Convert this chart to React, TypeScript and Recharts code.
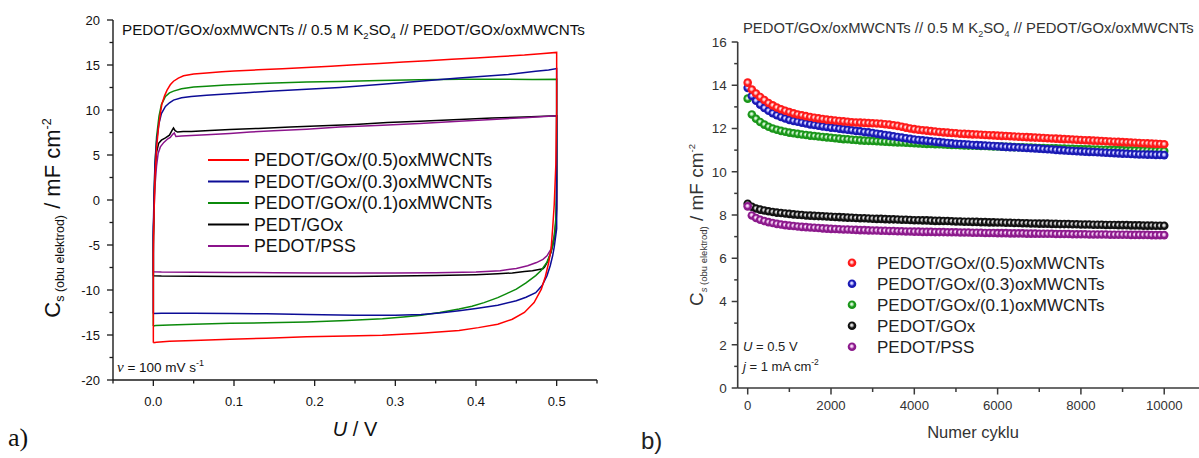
import React from 'react';
import { LineChart, Line, ScatterChart, Scatter, XAxis, YAxis, Legend } from 'recharts';

const fontSans = '"Liberation Sans", Arial, sans-serif';
const fontSerif = '"Liberation Serif", "Times New Roman", serif';

// ---------------- Panel a: cyclic voltammograms ----------------
const cvNames = ['PEDOT/GOx/(0.5)oxMWCNTs', 'PEDOT/GOx/(0.3)oxMWCNTs', 'PEDOT/GOx/(0.1)oxMWCNTs', 'PEDT/GOx', 'PEDOT/PSS'];
const cvColors = ['#ff0000', '#0c0c96', '#0b8a0b', '#000000', '#8b138b'];

const cvRed: [number, number][] = [
  [0, -15.85], [0, -11], [0, -6], [0.001, -1], [0.002, 2.5], [0.004, 5.8], [0.0066, 8.2], [0.009, 9.8], [0.0107, 10.7],
  [0.014, 11.6], [0.017, 12.2], [0.021, 12.8], [0.025, 13.2], [0.031, 13.55], [0.0375, 13.8], [0.05, 14.0], [0.066, 14.12],
  [0.085, 14.25], [0.1, 14.33], [0.13, 14.46], [0.16, 14.58], [0.19, 14.72], [0.22, 14.86], [0.25, 15.02], [0.28, 15.18],
  [0.31, 15.33], [0.34, 15.48], [0.37, 15.63], [0.4, 15.78], [0.43, 15.94], [0.46, 16.1], [0.48, 16.25], [0.5, 16.4],
  [0.5, 10], [0.499, 4], [0.497, -0.5], [0.495, -3.2], [0.493, -5.5], [0.49, -7.0], [0.486, -8.5], [0.481, -9.9],
  [0.472, -11.4], [0.46, -12.5], [0.445, -13.25], [0.427, -13.8], [0.403, -14.18], [0.379, -14.5], [0.332, -14.8],
  [0.284, -15.04], [0.24, -15.12], [0.19, -15.2], [0.14, -15.35], [0.095, -15.48], [0.05, -15.6], [0.02, -15.7],
  [0.004, -15.8], [0, -15.85],
];
const cvBlue: [number, number][] = [
  [0, -12.6], [0, -8], [0, -3], [0.001, 1], [0.002, 4], [0.004, 6.5], [0.007, 8.5], [0.01, 9.6], [0.015, 10.4],
  [0.02, 10.8], [0.025, 11.1], [0.035, 11.35], [0.047, 11.5], [0.066, 11.65], [0.095, 11.8], [0.12, 11.95], [0.149, 12.1],
  [0.19, 12.3], [0.231, 12.5], [0.284, 12.85], [0.33, 13.2], [0.379, 13.55], [0.41, 13.75], [0.44, 13.95], [0.474, 14.3],
  [0.49, 14.45], [0.5, 14.6], [0.5, 8], [0.5, 0], [0.5, -3.2], [0.497, -5.2], [0.495, -6.2], [0.492, -7.3], [0.488, -8.4],
  [0.482, -9.5], [0.474, -10.3], [0.462, -10.8], [0.45, -11.2], [0.427, -11.7], [0.4, -12.05], [0.379, -12.3],
  [0.355, -12.55], [0.332, -12.73], [0.3, -12.8], [0.25, -12.8], [0.19, -12.72], [0.14, -12.65], [0.095, -12.6],
  [0.05, -12.57], [0.01, -12.57], [0, -12.6],
];
const cvGreen: [number, number][] = [
  [0, -14.0], [0, -10], [0, -5], [0.001, 0], [0.002, 4], [0.004, 7], [0.007, 9.3], [0.01, 10.6], [0.015, 11.5],
  [0.02, 11.9], [0.025, 12.1], [0.035, 12.35], [0.05, 12.55], [0.066, 12.65], [0.09, 12.78], [0.12, 12.9], [0.15, 13.0],
  [0.19, 13.1], [0.23, 13.18], [0.28, 13.28], [0.33, 13.35], [0.38, 13.42], [0.43, 13.42], [0.47, 13.4], [0.5, 13.42],
  [0.5, 8], [0.5, 2], [0.499, -2], [0.497, -4], [0.495, -5.1], [0.492, -6.0], [0.488, -6.9], [0.481, -7.8], [0.474, -8.4],
  [0.462, -9.2], [0.45, -9.9], [0.438, -10.4], [0.427, -10.85], [0.41, -11.4], [0.395, -11.8], [0.379, -12.1],
  [0.355, -12.5], [0.332, -12.8], [0.31, -13.0], [0.284, -13.2], [0.24, -13.4], [0.19, -13.55], [0.14, -13.65],
  [0.095, -13.7], [0.05, -13.8], [0.02, -13.9], [0.003, -13.95], [0, -14.0],
];
const cvBlack: [number, number][] = [
  [0, -8.42], [0, -4], [0.001, 0], [0.002, 3], [0.004, 5.3], [0.0066, 6.3], [0.01, 6.65], [0.015, 6.9], [0.02, 7.2],
  [0.023, 7.7], [0.025, 8.0], [0.027, 7.7], [0.03, 7.55], [0.037, 7.6], [0.047, 7.62], [0.07, 7.72], [0.095, 7.82],
  [0.13, 7.95], [0.17, 8.1], [0.21, 8.25], [0.25, 8.4], [0.29, 8.6], [0.33, 8.75], [0.379, 8.95], [0.42, 9.1],
  [0.46, 9.22], [0.5, 9.35], [0.5, 4], [0.5, -1], [0.499, -3], [0.497, -4.3], [0.493, -5.8], [0.489, -6.8],
  [0.485, -7.45], [0.483, -7.65], [0.478, -7.72], [0.47, -7.85], [0.46, -7.95], [0.445, -8.1], [0.427, -8.2],
  [0.4, -8.3], [0.35, -8.4], [0.3, -8.45], [0.25, -8.5], [0.2, -8.5], [0.15, -8.5], [0.1, -8.5], [0.05, -8.48],
  [0.01, -8.45], [0, -8.42],
];
const cvPurple: [number, number][] = [
  [0, -7.97], [0, -4], [0.001, -1], [0.002, 1.5], [0.004, 3.8], [0.006, 5.2], [0.0087, 5.9], [0.013, 6.4], [0.018, 6.8],
  [0.021, 6.96], [0.024, 7.3], [0.026, 7.45], [0.028, 7.05], [0.035, 7.1], [0.047, 7.18], [0.066, 7.25], [0.095, 7.4],
  [0.12, 7.55], [0.149, 7.7], [0.19, 7.87], [0.231, 8.1], [0.284, 8.3], [0.33, 8.5], [0.379, 8.75], [0.42, 8.95],
  [0.46, 9.15], [0.5, 9.35], [0.5, 5], [0.5, 0], [0.499, -2.5], [0.497, -4], [0.493, -5.45], [0.488, -6.2],
  [0.483, -6.6], [0.475, -6.95], [0.464, -7.3], [0.45, -7.6], [0.43, -7.85], [0.4, -8.0], [0.35, -8.08], [0.3, -8.1],
  [0.25, -8.12], [0.2, -8.1], [0.15, -8.08], [0.1, -8.05], [0.05, -8.02], [0.01, -8.0], [0, -7.97],
];
const cvSeries = [cvRed, cvBlue, cvGreen, cvBlack, cvPurple];
const cvDrawOrder = [3, 4, 2, 1, 0];

const aXMajor = [0, 0.1, 0.2, 0.3, 0.4, 0.5];
const aXMinor = [-0.05, 0.05, 0.15, 0.25, 0.35, 0.45, 0.55];
const aYMajor = [-20, -15, -10, -5, 0, 5, 10, 15, 20];
const aYMinor = [-17.5, -12.5, -7.5, -2.5, 2.5, 7.5, 12.5, 17.5];

// ---------------- Panel b: cycling stability ----------------
const bNames = ['PEDOT/GOx/(0.5)oxMWCNTs', 'PEDOT/GOx/(0.3)oxMWCNTs', 'PEDOT/GOx/(0.1)oxMWCNTs', 'PEDOT/GOx', 'PEDOT/PSS'];
const bColors = ['#ff1a1a', '#1a1ab4', '#1a961a', '#111111', '#8c1a8c'];
const bLight = ['#ffb0b0', '#b0b0ff', '#b0e8b0', '#bbbbbb', '#e8b0e8'];

const cycles = [
  0, 100, 200, 300, 400, 500, 600, 700, 800, 900,
  1000, 1100, 1200, 1300, 1400, 1500, 1600, 1700, 1800, 1900,
  2000, 2100, 2200, 2300, 2400, 2500, 2600, 2700, 2800, 2900,
  3000, 3100, 3200, 3300, 3400, 3500, 3600, 3700, 3800, 3900,
  4000, 4100, 4200, 4300, 4400, 4500, 4600, 4700, 4800, 4900,
  5000, 5100, 5200, 5300, 5400, 5500, 5600, 5700, 5800, 5900,
  6000, 6100, 6200, 6300, 6400, 6500, 6600, 6700, 6800, 6900,
  7000, 7100, 7200, 7300, 7400, 7500, 7600, 7700, 7800, 7900,
  8000, 8100, 8200, 8300, 8400, 8500, 8600, 8700, 8800, 8900,
  9000, 9100, 9200, 9300, 9400, 9500, 9600, 9700, 9800, 9900,
  10000,
];
const capRed = [
  14.12, 13.80, 13.62, 13.46, 13.32, 13.18, 13.07, 12.97, 12.89, 12.82,
  12.76, 12.70, 12.65, 12.61, 12.57, 12.53, 12.50, 12.47, 12.44, 12.41,
  12.39, 12.37, 12.35, 12.33, 12.31, 12.29, 12.28, 12.27, 12.26, 12.25,
  12.24, 12.23, 12.22, 12.20, 12.18, 12.15, 12.12, 12.08, 12.04, 12.00,
  11.97, 11.94, 11.92, 11.90, 11.88, 11.86, 11.84, 11.82, 11.81, 11.79,
  11.78, 11.76, 11.75, 11.74, 11.73, 11.72, 11.71, 11.70, 11.69, 11.68,
  11.67, 11.66, 11.65, 11.64, 11.63, 11.62, 11.61, 11.60, 11.59, 11.58,
  11.57, 11.56, 11.55, 11.54, 11.53, 11.52, 11.51, 11.50, 11.49, 11.48,
  11.47, 11.46, 11.45, 11.44, 11.43, 11.42, 11.41, 11.40, 11.39, 11.38,
  11.37, 11.36, 11.35, 11.34, 11.33, 11.32, 11.31, 11.30, 11.29, 11.28,
  11.27,
];
const capBlue = [
  13.88, 13.50, 13.28, 13.10, 12.95, 12.82, 12.71, 12.61, 12.53, 12.46,
  12.40, 12.35, 12.31, 12.27, 12.23, 12.19, 12.16, 12.13, 12.10, 12.07,
  12.04, 12.02, 11.99, 11.97, 11.94, 11.92, 11.89, 11.87, 11.84, 11.82,
  11.79, 11.76, 11.73, 11.70, 11.67, 11.64, 11.61, 11.58, 11.55, 11.52,
  11.49, 11.47, 11.45, 11.43, 11.41, 11.39, 11.37, 11.35, 11.33, 11.31,
  11.29, 11.28, 11.27, 11.26, 11.24, 11.23, 11.22, 11.21, 11.20, 11.19,
  11.18, 11.16, 11.15, 11.14, 11.13, 11.12, 11.11, 11.10, 11.09, 11.08,
  11.07, 11.05, 11.04, 11.03, 11.01, 11.00, 10.99, 10.97, 10.96, 10.95,
  10.94, 10.93, 10.92, 10.91, 10.90, 10.89, 10.88, 10.87, 10.86, 10.85,
  10.84, 10.83, 10.82, 10.81, 10.80, 10.80, 10.79, 10.79, 10.78, 10.78,
  10.77,
];
const capGreen = [
  13.38, 12.65, 12.45, 12.30, 12.18, 12.08, 12.00, 11.94, 11.89, 11.85,
  11.81, 11.78, 11.75, 11.72, 11.70, 11.67, 11.65, 11.63, 11.61, 11.59,
  11.57, 11.55, 11.53, 11.51, 11.50, 11.48, 11.47, 11.45, 11.44, 11.43,
  11.42, 11.41, 11.40, 11.39, 11.38, 11.37, 11.36, 11.35, 11.34, 11.33,
  11.32, 11.31, 11.30, 11.29, 11.28, 11.27, 11.27, 11.26, 11.25, 11.24,
  11.24, 11.23, 11.22, 11.21, 11.21, 11.20, 11.19, 11.19, 11.18, 11.17,
  11.17, 11.16, 11.15, 11.15, 11.14, 11.13, 11.13, 11.12, 11.12, 11.11,
  11.10, 11.10, 11.09, 11.09, 11.08, 11.07, 11.07, 11.06, 11.06, 11.05,
  11.05, 11.04, 11.04, 11.03, 11.03, 11.02, 11.02, 11.01, 11.01, 11.00,
  11.00, 10.99, 10.99, 10.99, 10.98, 10.98, 10.98, 10.97, 10.97, 10.97,
  10.96,
];
const capBlack = [
  8.52, 8.38, 8.30, 8.25, 8.21, 8.17, 8.14, 8.11, 8.09, 8.07,
  8.05, 8.03, 8.01, 8.00, 7.98, 7.97, 7.96, 7.95, 7.94, 7.93,
  7.92, 7.91, 7.90, 7.89, 7.88, 7.87, 7.86, 7.85, 7.85, 7.84,
  7.83, 7.82, 7.82, 7.81, 7.80, 7.80, 7.79, 7.78, 7.78, 7.77,
  7.76, 7.76, 7.75, 7.75, 7.74, 7.73, 7.73, 7.72, 7.72, 7.71,
  7.70, 7.70, 7.69, 7.69, 7.68, 7.68, 7.67, 7.67, 7.66, 7.66,
  7.65, 7.65, 7.64, 7.64, 7.63, 7.63, 7.62, 7.62, 7.61, 7.61,
  7.60, 7.60, 7.60, 7.59, 7.59, 7.58, 7.58, 7.58, 7.57, 7.57,
  7.56, 7.56, 7.56, 7.55, 7.55, 7.55, 7.54, 7.54, 7.54, 7.53,
  7.53, 7.53, 7.52, 7.52, 7.52, 7.51, 7.51, 7.51, 7.50, 7.50,
  7.50,
];
const capPurple = [
  8.40, 7.98, 7.86, 7.78, 7.72, 7.67, 7.63, 7.59, 7.56, 7.53,
  7.51, 7.49, 7.47, 7.45, 7.44, 7.42, 7.41, 7.40, 7.38, 7.37,
  7.36, 7.35, 7.34, 7.33, 7.33, 7.32, 7.31, 7.30, 7.30, 7.29,
  7.28, 7.28, 7.27, 7.27, 7.26, 7.26, 7.25, 7.25, 7.24, 7.24,
  7.23, 7.23, 7.22, 7.22, 7.22, 7.21, 7.21, 7.21, 7.20, 7.20,
  7.20, 7.19, 7.19, 7.19, 7.18, 7.18, 7.18, 7.17, 7.17, 7.17,
  7.16, 7.16, 7.16, 7.15, 7.15, 7.15, 7.15, 7.14, 7.14, 7.14,
  7.13, 7.13, 7.13, 7.13, 7.12, 7.12, 7.12, 7.12, 7.11, 7.11,
  7.11, 7.11, 7.10, 7.10, 7.10, 7.10, 7.10, 7.09, 7.09, 7.09,
  7.09, 7.09, 7.08, 7.08, 7.08, 7.08, 7.08, 7.07, 7.07, 7.07,
  7.07,
];
const capSeries = [capRed, capBlue, capGreen, capBlack, capPurple];
const capDrawOrder = [2, 1, 0, 3, 4];

const bXMajor = [0, 2000, 4000, 6000, 8000, 10000];
const bXMinor = [1000, 3000, 5000, 7000, 9000];
const bYMajor = [0, 2, 4, 6, 8, 10, 12, 14, 16];
const bYMinor = [1, 3, 5, 7, 9, 11, 13, 15];

// ---------------- helpers ----------------
const sortedUnion = (a: number[], b: number[]) => [...a, ...b].sort((p, q) => p - q);

type TickOpts = {
  orient: 'bottom' | 'left';
  majors: number[];
  majorLen: number;
  minorLen: number;
  fs: number;
  color: string;
  textColor: string;
  sw: number;
  off: number;
  fmt: (v: number) => string;
};

const makeTick = (o: TickOpts) => (props: any) => {
  const { x, y, payload } = props;
  const v = payload.value as number;
  const major = o.majors.some((m) => Math.abs(m - v) < 1e-9);
  const len = major ? o.majorLen : o.minorLen;
  if (o.orient === 'bottom') {
    return (
      <g>
        <line x1={x} y1={y} x2={x} y2={y + len} stroke={o.color} strokeWidth={o.sw} />
        {major && (
          <text x={x} y={y + o.off} textAnchor="middle" fontSize={o.fs} fill={o.textColor} fontFamily={fontSans}>
            {o.fmt(v)}
          </text>
        )}
      </g>
    );
  }
  return (
    <g>
      <line x1={x} y1={y} x2={x - len} y2={y} stroke={o.color} strokeWidth={o.sw} />
      {major && (
        <text x={x - o.off} y={y} dy="0.36em" textAnchor="end" fontSize={o.fs} fill={o.textColor} fontFamily={fontSans}>
          {o.fmt(v)}
        </text>
      )}
    </g>
  );
};

const LegendA = () => (
  <svg width={320} height={112} style={{ display: 'block' }}>
    {cvNames.map((n, i) => {
      const cy = 11 + i * 21.5;
      return (
        <g key={n}>
          <line x1={8} x2={49} y1={cy} y2={cy} stroke={cvColors[i]} strokeWidth={2} />
          <text x={54} y={cy + 6.2} fontSize={17.8} fontFamily={fontSans} fill="#111">{n}</text>
        </g>
      );
    })}
  </svg>
);

const LegendB = () => (
  <svg width={320} height={110} style={{ display: 'block' }}>
    {bNames.map((n, i) => {
      const cy = 10.7 + i * 21;
      return (
        <g key={n}>
          <circle cx={12} cy={cy} r={4.3} fill={`url(#sph${i})`} />
          <text x={37} y={cy + 6} fontSize={17} fontFamily={fontSans} fill="#222">{n}</text>
        </g>
      );
    })}
  </svg>
);

const sphereShape = (i: number) => (props: any) => {
  const { cx, cy } = props;
  if (cx == null || cy == null) return <g />;
  return <circle cx={cx} cy={cy} r={4.3} fill={`url(#sph${i})`} />;
};

export default function App() {
  const cvData = cvSeries.map((s) => s.map(([u, c]) => ({ u, c })));
  const capData = capSeries.map((s) => s.map((c, k) => ({ n: cycles[k], c })));

  const axA = '#1a1a1a';
  const axB = '#3a3a3a';

  return (
    <div style={{ position: 'absolute', left: 0, top: 0, width: 1199, height: 458, background: '#fff', overflow: 'hidden' }}>
      {/* Panel a */}
      <div style={{ position: 'absolute', left: 0, top: 0 }}>
        <LineChart width={610} height={458} margin={{ top: 20, right: 13, bottom: 48, left: 53 }}>
          <XAxis
            type="number"
            dataKey="u"
            domain={[-0.05, 0.55]}
            allowDataOverflow
            ticks={sortedUnion(aXMajor, aXMinor)}
            interval={0}
            height={30}
            tickSize={0}
            tickMargin={0}
            tickLine={false}
            axisLine={{ stroke: axA, strokeWidth: 1.4 }}
            tick={makeTick({ orient: 'bottom', majors: aXMajor, majorLen: 6, minorLen: 3.5, fs: 13, color: axA, textColor: '#111', sw: 1.3, off: 26.4, fmt: (v) => v.toFixed(1) })}
          />
          <YAxis
            type="number"
            dataKey="c"
            domain={[-20, 20]}
            allowDataOverflow
            ticks={sortedUnion(aYMajor, aYMinor)}
            interval={0}
            width={60}
            tickSize={0}
            tickMargin={0}
            tickLine={false}
            axisLine={{ stroke: axA, strokeWidth: 1.4 }}
            tick={makeTick({ orient: 'left', majors: aYMajor, majorLen: 6, minorLen: 3.5, fs: 13, color: axA, textColor: '#111', sw: 1.3, off: 13, fmt: (v) => String(v) })}
          />
          {cvDrawOrder.map((i) => (
            <Line
              key={cvNames[i]}
              data={cvData[i]}
              dataKey="c"
              name={cvNames[i]}
              type="linear"
              stroke={cvColors[i]}
              strokeWidth={1.5}
              dot={false}
              activeDot={false}
              isAnimationActive={false}
            />
          ))}
          <Legend
            layout="vertical"
            align="center"
            verticalAlign="middle"
            wrapperStyle={{ position: 'absolute', left: 200, top: 149, width: 320, height: 112 }}
            content={() => <LegendA />}
          />
        </LineChart>
      </div>

      {/* Panel b */}
      <div style={{ position: 'absolute', left: 600, top: 0 }}>
        <ScatterChart width={599} height={458} margin={{ top: 42, right: 0, bottom: 40, left: 77.7 }}>
          <XAxis
            type="number"
            dataKey="n"
            domain={[-240, 10835]}
            allowDataOverflow
            ticks={sortedUnion(bXMajor, bXMinor)}
            interval={0}
            height={30}
            tickSize={0}
            tickMargin={0}
            tickLine={false}
            axisLine={{ stroke: axB, strokeWidth: 1.6 }}
            tick={makeTick({ orient: 'bottom', majors: bXMajor, majorLen: 6.5, minorLen: 4, fs: 13.2, color: axB, textColor: '#333', sw: 1.5, off: 22, fmt: (v) => String(v) })}
          />
          <YAxis
            type="number"
            dataKey="c"
            domain={[0, 16]}
            allowDataOverflow
            ticks={sortedUnion(bYMajor, bYMinor)}
            interval={0}
            width={60}
            tickSize={0}
            tickMargin={0}
            tickLine={false}
            axisLine={{ stroke: axB, strokeWidth: 1.6 }}
            tick={makeTick({ orient: 'left', majors: bYMajor, majorLen: 6, minorLen: 3.5, fs: 13.5, color: axB, textColor: '#333', sw: 1.5, off: 11, fmt: (v) => String(v) })}
          />
          {capDrawOrder.map((i) => (
            <Scatter
              key={bNames[i]}
              name={bNames[i]}
              data={capData[i]}
              fill={bColors[i]}
              shape={sphereShape(i)}
              isAnimationActive={false}
            />
          ))}
          <Legend
            layout="vertical"
            align="center"
            verticalAlign="middle"
            wrapperStyle={{ position: 'absolute', left: 240, top: 252, width: 320, height: 110 }}
            content={() => <LegendB />}
          />
        </ScatterChart>
      </div>

      {/* Texts and gradients */}
      <svg width={1199} height={458} style={{ position: 'absolute', left: 0, top: 0, pointerEvents: 'none' }}>
        <defs>
          {bColors.map((c, i) => (
            <radialGradient key={c} id={`sph${i}`} cx="50%" cy="50%" r="50%" fx="45%" fy="42%">
              <stop offset="0%" stopColor="#ffffff" />
              <stop offset="28%" stopColor={bLight[i]} />
              <stop offset="60%" stopColor={bColors[i]} />
              <stop offset="100%" stopColor={bColors[i]} />
            </radialGradient>
          ))}
        </defs>

        {/* panel a texts */}
        <text x={122} y={35} fontSize={15.2} fontFamily={fontSans} fill="#111">
          PEDOT/GOx/oxMWCNTs // 0.5 M K<tspan fontSize={9.5} dy={4}>2</tspan><tspan dy={-4}>SO</tspan>
          <tspan fontSize={9.5} dy={4}>4</tspan><tspan dy={-4}> // PEDOT/GOx/oxMWCNTs</tspan>
        </text>
        <text transform="translate(60,218) rotate(-90)" textAnchor="middle" fontFamily={fontSans} fill="#111">
          <tspan fontSize={22}>C</tspan>
          <tspan fontSize={12.5} dy={4}>s (obu elektrod)</tspan>
          <tspan fontSize={22} dy={-4}> / mF cm</tspan>
          <tspan fontSize={12.5} dy={-9}>-2</tspan>
        </text>
        <text x={355} y={436} textAnchor="middle" fontSize={20} fontFamily={fontSans} fill="#111">
          <tspan fontStyle="italic">U</tspan> / V
        </text>
        <text x={117} y={372} fontSize={13.5} fontFamily={fontSans} fill="#111">
          <tspan fontFamily={fontSerif} fontStyle="italic" fontSize={15}>ν</tspan> = 100 mV s
          <tspan fontSize={9} dy={-6}>-1</tspan>
        </text>
        <text x={8} y={446} fontSize={26} fontFamily={fontSerif} fill="#111">a)</text>

        {/* panel b texts */}
        <text x={743} y={33} fontSize={14.8} fontFamily={fontSans} fill="#333">
          PEDOT/GOx/oxMWCNTs // 0.5 M K<tspan fontSize={9} dy={4}>2</tspan><tspan dy={-4}>SO</tspan>
          <tspan fontSize={9} dy={4}>4</tspan><tspan dy={-4}> // PEDOT/GOx/oxMWCNTs</tspan>
        </text>
        <text transform="translate(703,225) rotate(-90)" textAnchor="middle" fontFamily={fontSans} fill="#333">
          <tspan fontSize={19}>C</tspan>
          <tspan fontSize={9.5} dy={4} fontStyle="italic">s</tspan>
          <tspan fontSize={9.5}> (obu elektrod)</tspan>
          <tspan fontSize={19} dy={-4}> / mF cm</tspan>
          <tspan fontSize={9.5} dy={-8}>-2</tspan>
        </text>
        <text x={973} y={438} textAnchor="middle" fontSize={16.5} fontFamily={fontSans} fill="#333">Numer cyklu</text>
        <text x={743} y={351} fontSize={13} fontFamily={fontSans} fill="#222">
          <tspan fontStyle="italic">U</tspan> = 0.5 V
        </text>
        <text x={743} y={371} fontSize={13} fontFamily={fontSans} fill="#222">
          <tspan fontStyle="italic">j</tspan> = 1 mA cm<tspan fontSize={8.5} dy={-6}>-2</tspan>
        </text>
        <text x={641} y={449} fontSize={24} fontFamily={fontSans} fill="#222">b)</text>
      </svg>
    </div>
  );
}
